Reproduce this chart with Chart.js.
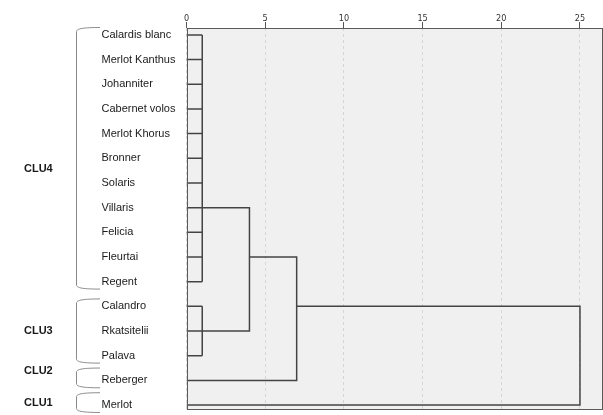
<!DOCTYPE html>
<html>
<head>
<meta charset="utf-8">
<script src="https://cdn.jsdelivr.net/npm/chart.js@4.4.1/dist/chart.umd.min.js"></script>
<style>
  html, body { margin: 0; padding: 0; background: #fff; }
  #wrap { width: 603px; height: 415px; }
</style>
</head>
<body>
<div id="wrap"><canvas id="dendro"></canvas></div>
<script>
const leaves = ['Calardis blanc', 'Merlot Kanthus', 'Johanniter', 'Cabernet volos', 'Merlot Khorus',
  'Bronner', 'Solaris', 'Villaris', 'Felicia', 'Fleurtai', 'Regent',
  'Calandro', 'Rkatsitelii', 'Palava', 'Reberger', 'Merlot'];
const xTicks = [0, 5, 10, 15, 20, 25];

// cluster brackets on the left
const clusterNames = ['CLU4', 'CLU3', 'CLU2', 'CLU1'];
const clusterFirst = ['Calardis blanc', 'Calandro', 'Reberger', 'Merlot'];
const clusterLast = ['Regent', 'Palava', 'Reberger', 'Merlot'];

// leaf groups joined at the same rescaled distance
const groupNames = ['g4', 'g3'];
const groupFirst = ['Calardis blanc', 'Calandro'];
const groupLast = ['Regent', 'Palava'];
const groupStem = ['Villaris', 'Rkatsitelii'];
const groupHeight = [1, 1];

// later merges (rescaled distance)
const mergeLeft = ['g4', 'm1', 'm2'];
const mergeRight = ['g3', 'Reberger', 'Merlot'];
const mergeHeight = [4, 7, 25];

const rowOf = name => leaves.indexOf(name);
const nodes = {};
leaves.forEach((n, i) => nodes[n] = { row: i, height: 0 });

const segments = [];
groupNames.forEach((g, k) => {
    const a = rowOf(groupFirst[k]), b = rowOf(groupLast[k]), h = groupHeight[k];
    for (let r = a; r <= b; r++) segments.push([{ x: 0, y: r }, { x: h, y: r }]);
    segments.push([{ x: h, y: a }, { x: h, y: b }]);
    nodes[g] = { row: rowOf(groupStem[k]), height: h };
});
mergeHeight.forEach((h, k) => {
    const L = nodes[mergeLeft[k]], R = nodes[mergeRight[k]];
    segments.push([{ x: L.height, y: L.row }, { x: h, y: L.row }, { x: h, y: R.row }, { x: R.height, y: R.row }]);
    nodes['m' + (k + 1)] = { row: Math.floor((L.row + R.row) / 2), height: h };
});

// small nudges for the cluster names (in rows)
const labelShift = [0.43, 0, -0.4, -0.1];

const plotFrame = {
    id: 'plotFrame',
    beforeDraw(chart) {
        const { ctx, chartArea: a } = chart;
        ctx.save();
        ctx.fillStyle = '#f0f0f0';
        ctx.fillRect(a.left, a.top, a.right - a.left, a.bottom - a.top);
        ctx.restore();
    },
    afterDraw(chart) {
        const { ctx, chartArea: a } = chart;
        const y = chart.scales.y;
        ctx.save();
        ctx.strokeStyle = '#5a5a5a';
        ctx.lineWidth = 1;
        ctx.strokeRect(Math.round(a.left) + 0.5, Math.round(a.top) + 0.5,
            Math.round(a.right - a.left) - 1, Math.round(a.bottom - a.top) - 1);

        // brackets + cluster names
        ctx.strokeStyle = '#8a8a8a';
        ctx.fillStyle = '#1a1a1a';
        ctx.font = 'bold 11px "Liberation Sans", Arial, sans-serif';
        ctx.textBaseline = 'middle';
        clusterNames.forEach((name, k) => {
            const r1 = rowOf(clusterFirst[k]), r2 = rowOf(clusterLast[k]);
            const top = r1 === r2 ? 0.5 : 0.3;
            const y1 = y.getPixelForValue(r1 - top), y2 = y.getPixelForValue(r2 + 0.3);
            ctx.beginPath();
            ctx.moveTo(100, y1);
            ctx.bezierCurveTo(84, y1, 76.5, y1 + 1, 76.5, y1 + 4);
            ctx.lineTo(76.5, y2 - 4);
            ctx.bezierCurveTo(76.5, y2 - 1, 84, y2, 100, y2);
            ctx.stroke();
            ctx.fillText(name, 24, y.getPixelForValue((r1 + r2) / 2 + labelShift[k]));
        });
        ctx.restore();
    }
};

new Chart(document.getElementById('dendro'), {
    type: 'scatter',
    data: {
        datasets: segments.map(pts => ({
            data: pts,
            showLine: true,
            borderColor: '#444',
            borderWidth: 1.5,
            pointRadius: 0,
            fill: false,
            tension: 0
        }))
    },
    options: {
        responsive: true,
        maintainAspectRatio: false,
        animation: false,
        layout: { padding: { left: 101.5, top: 0, right: 1, bottom: 5 } },
        plugins: { legend: { display: false }, tooltip: { enabled: false } },
        scales: {
            x: {
                type: 'linear',
                position: 'top',
                min: 0,
                max: 26.4,
                afterBuildTicks: axis => { axis.ticks = xTicks.map(v => ({ value: v })); },
                afterFit: axis => { axis.height = 28; axis.paddingLeft = 0; axis.paddingRight = 0; },
                ticks: {
                    color: '#333',
                    padding: -2,
                    font: { family: '"Liberation Sans Narrow", "DejaVu Sans Condensed", sans-serif', size: 9 }
                },
                grid: {
                    color: '#d6d6d6',
                    lineWidth: 1,
                    tickColor: '#555',
                    tickLength: 6
                },
                border: { display: false, dash: [3, 3] }
            },
            y: {
                type: 'linear',
                reverse: true,
                min: -0.28,
                max: 15.2,
                afterBuildTicks: axis => { axis.ticks = leaves.map((_, i) => ({ value: i })); },
                afterFit: axis => { axis.width = 85; axis.paddingTop = 0; axis.paddingBottom = 0; },
                ticks: {
                    crossAlign: 'far',
                    padding: 0,
                    color: '#1a1a1a',
                    font: { family: '"Liberation Sans", Arial, sans-serif', size: 11 },
                    callback: v => leaves[v]
                },
                grid: { display: false, drawTicks: false, tickLength: 0 },
                border: { display: false }
            }
        }
    },
    plugins: [plotFrame]
});
</script>
</body>
</html>
